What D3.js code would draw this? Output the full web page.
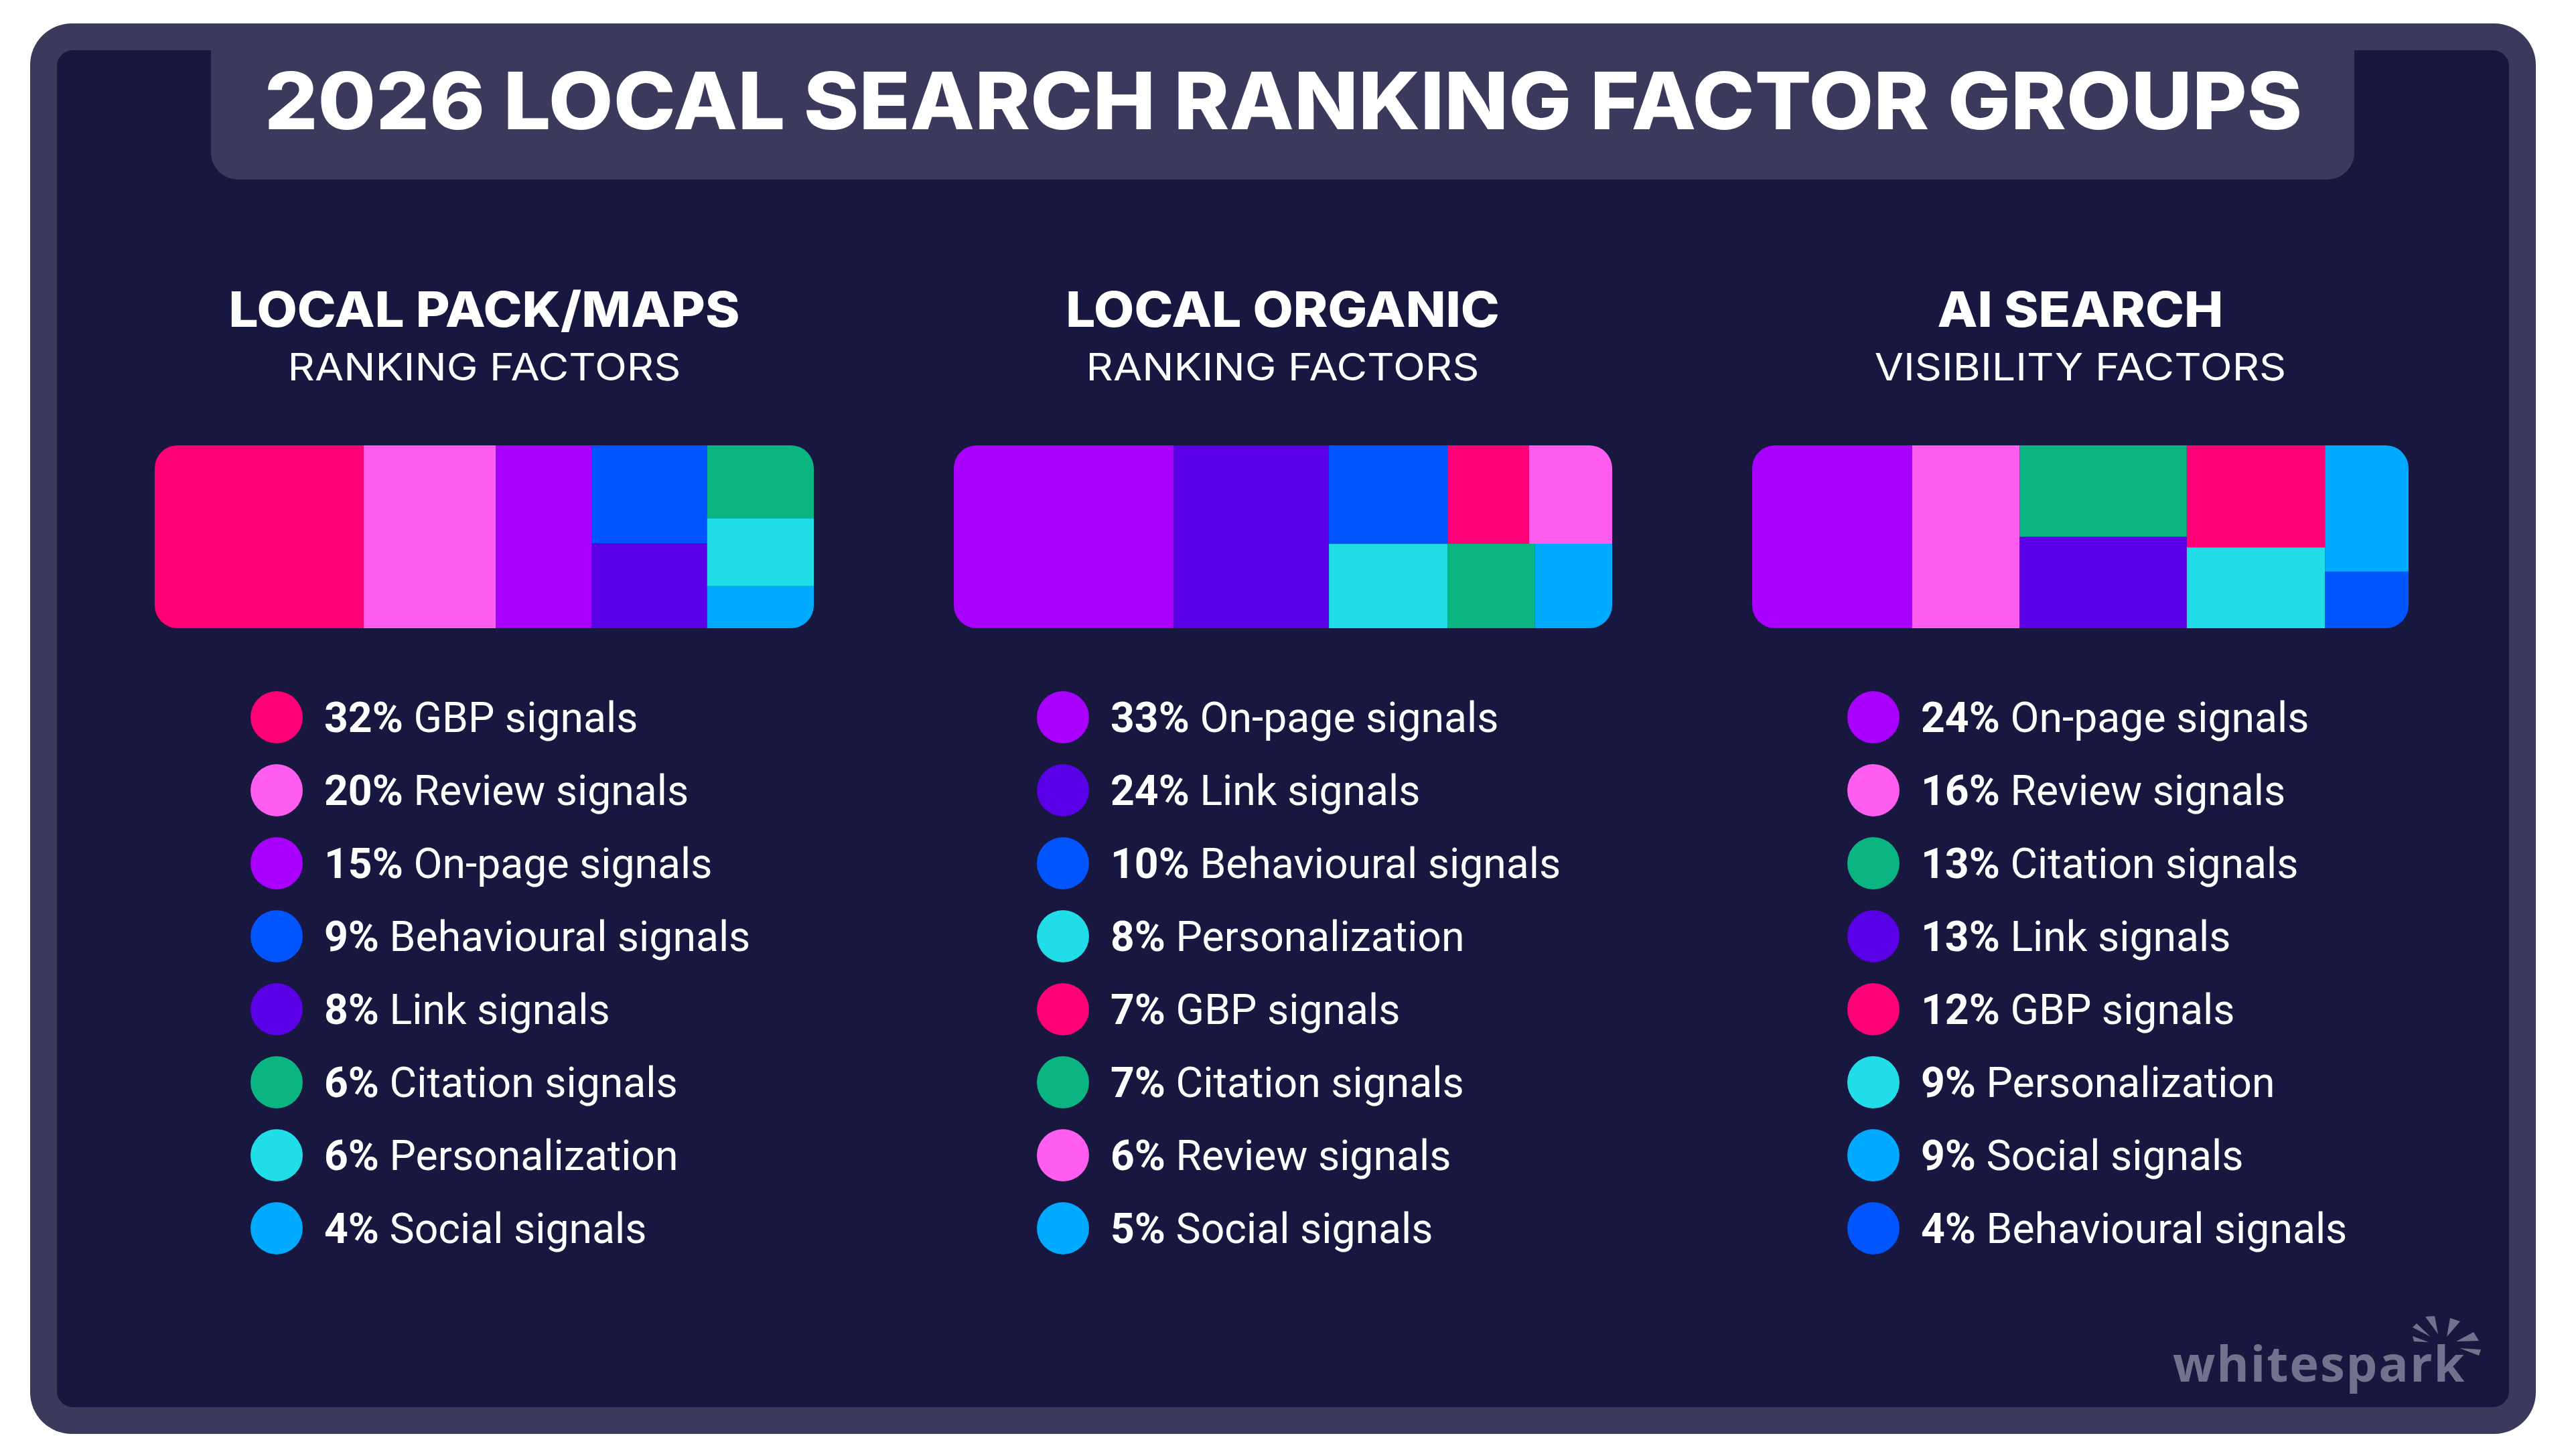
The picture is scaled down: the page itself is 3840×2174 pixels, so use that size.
<!DOCTYPE html>
<html>
<head>
<meta charset="utf-8">
<title>2026 Local Search Ranking Factor Groups</title>
<script src="https://cdnjs.cloudflare.com/ajax/libs/d3/7.8.5/d3.min.js"></script>
<style>
  html, body { margin: 0; padding: 0; background: #fff; }
  svg { display: block; }
  text { fill: #fff; }
  .heading { font-family: Inter, sans-serif; }
  .legend-label { font-family: Roboto, sans-serif; }
</style>
</head>
<body>
<svg id="chart" width="3840" height="2174"></svg>
<script>
const factorNames = ['GBP signals', 'Review signals', 'On-page signals', 'Behavioural signals', 'Link signals', 'Citation signals', 'Personalization', 'Social signals'];
const factorColors = ['#ff0077', '#ff5cf0', '#aa00ff', '#0055ff', '#5a00e6', '#0ab581', '#20dde8', '#00aaff'];

// printed percentages, and the block areas as measured in the picture (they do not follow the labels exactly)
const packFactors = ['GBP signals', 'Review signals', 'On-page signals', 'Behavioural signals', 'Link signals', 'Citation signals', 'Personalization', 'Social signals'];
const packValues = [32, 20, 15, 9, 8, 6, 6, 4];
const packAreas = [31.7, 20.07, 14.5, 9.42, 8.12, 6.47, 5.98, 3.74];
const packLayout = [[0], [1], [2], [3, 4], [5, 6, 7]];

const organicFactors = ['On-page signals', 'Link signals', 'Behavioural signals', 'Personalization', 'GBP signals', 'Citation signals', 'Review signals', 'Social signals'];
const organicValues = [33, 24, 10, 8, 7, 7, 6, 5];
const organicAreas = [33.4, 23.55, 9.7, 8.3, 6.67, 6.13, 6.79, 5.41];
const organicLayout = [[0], [1], [2, 3], [[4, 6], [5, 7]]];

const aiFactors = ['On-page signals', 'Review signals', 'Citation signals', 'Link signals', 'GBP signals', 'Personalization', 'Social signals', 'Behavioural signals'];
const aiValues = [24, 16, 13, 13, 12, 9, 9, 4];
const aiAreas = [24.37, 16.38, 12.75, 12.71, 11.75, 9.31, 8.8, 3.93];
const aiLayout = [[0], [1], [2, 3], [4, 5], [6, 7]];

const color = d3.scaleOrdinal().domain(factorNames).range(factorColors);
const legendRow = d3.scaleLinear().domain([0, 7]).range([1071, 1834]);

// the original heading face is wider than Inter, so headings get stretched
function addHeading(parent, x, y, size, weight, stretch, label) {
    return parent.append('text')
        .attr('class', 'heading')
        .attr('transform', `translate(${x},${y}) scale(${stretch},1)`)
        .attr('text-anchor', 'middle')
        .attr('font-size', size)
        .attr('font-weight', weight)
        .text(label);
}

class FactorPanel {
    constructor(_config, _factors, _values, _areas, _layout) {
        this.config = _config;
        this.factors = _factors;
        this.values = _values;
        this.areas = _areas;
        this.layout = _layout;
        this.initVis();
    }

    // layout nests factor indexes: columns, then rows, then cells
    buildTree(node) {
        let vis = this;
        if (typeof node === 'number') {
            return { name: vis.factors[node], value: vis.areas[node] };
        }
        return { children: node.map(n => vis.buildTree(n)) };
    }

    initVis() {
        let vis = this;
        let cfg = vis.config;

        vis.g = d3.select('#chart').append('g');

        addHeading(vis.g, cfg.center, 488, 73, 800, 1.07, cfg.title);
        addHeading(vis.g, cfg.center, 568, 56, 400, 1.12, cfg.subtitle);

        let root = d3.hierarchy(vis.buildTree(vis.layout)).sum(d => d.value || 0);
        d3.treemap()
            .tile(d3.treemapSliceDice)
            .size([cfg.width, 273])(root);

        let clipId = 'clip-' + cfg.key;
        vis.g.append('clipPath').attr('id', clipId)
            .append('rect')
            .attr('width', cfg.width).attr('height', 273).attr('rx', 34).attr('ry', 34);

        vis.g.append('g')
            .attr('transform', `translate(${cfg.left},665)`)
            .append('g')
            .attr('clip-path', `url(#${clipId})`)
            .selectAll('rect')
            .data(root.leaves())
            .join('rect')
            .attr('x', d => d.x0)
            .attr('y', d => d.y0)
            .attr('width', d => d.x1 - d.x0)
            .attr('height', d => d.y1 - d.y0)
            .attr('fill', d => color(d.data.name));

        let rows = vis.g.append('g').selectAll('g')
            .data(vis.factors)
            .join('g')
            .attr('transform', (d, i) => `translate(${cfg.legendX},${legendRow(i)})`);
        rows.append('circle')
            .attr('r', 39)
            .attr('fill', d => color(d));
        let labels = rows.append('text')
            .attr('class', 'legend-label')
            .attr('x', 71).attr('y', 21.5)
            .attr('font-size', 62.5);
        labels.append('tspan')
            .attr('font-weight', 700)
            .text((d, i) => vis.values[i] + '%');
        labels.append('tspan')
            .attr('font-weight', 400)
            .text(d => ' ' + d);
    }
}

const svg = d3.select('#chart');

// frame and title tab
svg.append('rect').attr('x', 45).attr('y', 35).attr('width', 3741).attr('height', 2106)
    .attr('rx', 62).attr('fill', '#3c3a5c');
svg.append('rect').attr('x', 85).attr('y', 75).attr('width', 3661).attr('height', 2026)
    .attr('rx', 24).attr('fill', '#17173f');
svg.append('path')
    .attr('d', 'M315,60V228a40,40 0 0 0 40,40H3475a40,40 0 0 0 40,-40V60Z')
    .attr('fill', '#3c3a5c');
addHeading(svg, 1916, 193, 118, 800, 1.062, '2026 LOCAL SEARCH RANKING FACTOR GROUPS');

new FactorPanel({ key: 'pack', center: 723, left: 231, width: 984, legendX: 413, title: 'LOCAL PACK/MAPS', subtitle: 'RANKING FACTORS' }, packFactors, packValues, packAreas, packLayout);
new FactorPanel({ key: 'organic', center: 1915, left: 1424, width: 983, legendX: 1587, title: 'LOCAL ORGANIC', subtitle: 'RANKING FACTORS' }, organicFactors, organicValues, organicAreas, organicLayout);
new FactorPanel({ key: 'ai', center: 3106, left: 2616, width: 980, legendX: 2797, title: 'AI SEARCH', subtitle: 'VISIBILITY FACTORS' }, aiFactors, aiValues, aiAreas, aiLayout);

// whitespark logo
const logo = svg.append('g');
logo.append('text')
    .attr('x', 3244).attr('y', 2063)
    .attr('font-size', 74).attr('font-weight', 700)
    .attr('letter-spacing', 1.9)
    .style('font-family', '"Open Sans", sans-serif')
    .style('fill', '#72728e')
    .text('whitespark');
const sparkRays = [
    [[3602, 1995], [3626, 2004], [3604, 2003]],
    [[3608, 1976], [3629, 1996], [3602, 1982]],
    [[3621, 1966], [3635, 1965], [3640, 1992]],
    [[3658, 1968], [3673, 1973], [3653, 1996]],
    [[3693, 1989], [3701, 2002], [3667, 2003]],
    [[3704, 2015], [3701, 2024], [3672, 2013]]
];
logo.selectAll('polygon')
    .data(sparkRays)
    .join('polygon')
    .attr('points', d => d.join(' '))
    .attr('fill', '#72728e');
</script>
</body>
</html>
